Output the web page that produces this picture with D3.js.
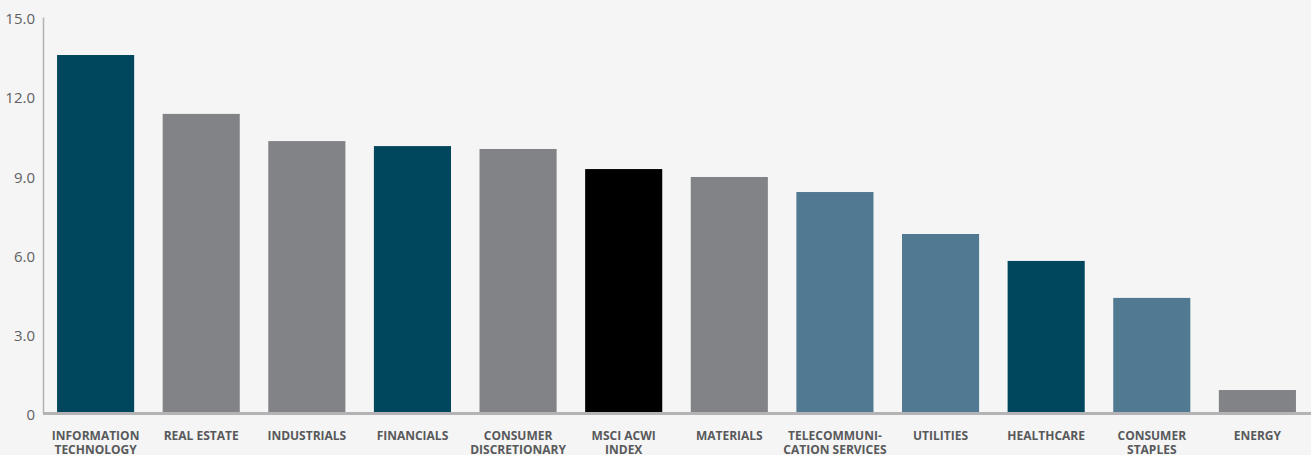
<!DOCTYPE html>
<html>
<head>
<meta charset="utf-8">
<script src="https://cdn.jsdelivr.net/npm/d3@7"></script>
<style>
  body { margin: 0; background: #f5f5f5; }
  svg { display: block; }
</style>
</head>
<body>
<svg id="chart" width="1311" height="455"></svg>
<script>
const sectors = [
  ["INFORMATION", "TECHNOLOGY"],
  ["REAL ESTATE"],
  ["INDUSTRIALS"],
  ["FINANCIALS"],
  ["CONSUMER", "DISCRETIONARY"],
  ["MSCI ACWI", "INDEX"],
  ["MATERIALS"],
  ["TELECOMMUNI-", "CATION SERVICES"],
  ["UTILITIES"],
  ["HEALTHCARE"],
  ["CONSUMER", "STAPLES"],
  ["ENERGY"]
]
const values = [13.56, 11.33, 10.3, 10.11, 10.0, 9.24, 8.94, 8.37, 6.78, 5.76, 4.36, 0.87]
const groups = ["dark", "gray", "gray", "dark", "gray", "index", "gray", "light", "light", "dark", "light", "gray"]
const ticks = [0, 3, 6, 9, 12, 15]

const colors = {dark: "#00465c", gray: "#828387", index: "#000000", light: "#527992"}

const svg = d3.select("#chart")

const x = d3.scaleBand()
  .domain(d3.range(values.length))
  .range([43, 1310])
  .paddingInner(0.27)
  .paddingOuter(0.133)

const y = d3.scaleLinear().domain([0, 15]).range([413, 17])

// bars
svg.append("g")
  .selectAll("rect")
  .data(values)
  .join("rect")
  .attr("x", (d, i) => x(i))
  .attr("y", d => y(d))
  .attr("width", x.bandwidth())
  .attr("height", d => y(0) - y(d))
  .attr("fill", (d, i) => colors[groups[i]])

// y axis
const yAxis = svg.append("g")
  .attr("transform", "translate(43,0)")
  .call(d3.axisLeft(y).tickValues(ticks).tickSize(0).tickPadding(8)
    .tickFormat(d => d === 0 ? "0" : d3.format(".1f")(d)))
yAxis.select(".domain").attr("stroke", "#b3b3b5").attr("stroke-width", 1.5)
yAxis.selectAll("text")
  .attr("fill", "#606062")
  .attr("dy", "0.45em")
  .style("font-family", "'Open Sans', sans-serif")
  .style("font-size", "15px")

// baseline
svg.append("line")
  .attr("x1", 43).attr("x2", 1311)
  .attr("y1", y(0) + 0.5).attr("y2", y(0) + 0.5)
  .attr("stroke", "#b3b3b5")
  .attr("stroke-width", 3)

// category labels
svg.append("g")
  .selectAll("text")
  .data(sectors)
  .join("text")
  .attr("x", (d, i) => x(i) + x.bandwidth() / 2)
  .attr("y", 440)
  .attr("text-anchor", "middle")
  .attr("fill", "#58595b")
  .style("font-family", "'Open Sans', sans-serif")
  .style("font-size", "12px")
  .style("font-weight", "bold")
  .selectAll("tspan")
  .data(d => d)
  .join("tspan")
  .attr("x", function () { return this.parentNode.getAttribute("x") })
  .attr("dy", (d, i) => i === 0 ? 0 : 14)
  .text(d => d)
</script>
</body>
</html>
